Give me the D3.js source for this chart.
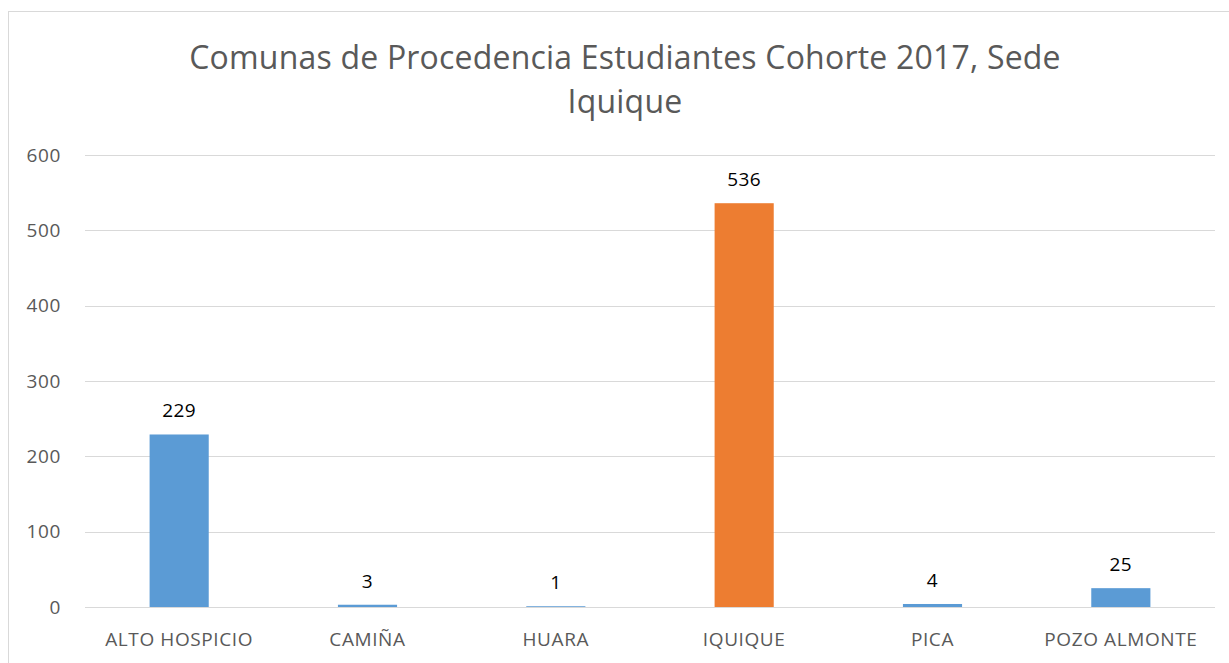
<!DOCTYPE html>
<html lang="es">
<head>
<meta charset="UTF-8" />
<title>Comunas de Procedencia</title>
<script src="https://d3js.org/d3.v7.min.js"></script>
<style>
  body { margin: 0; background: #fff; }
  svg { display: block; }
  text { font-family: "Open Sans", "Noto Sans", sans-serif; }
</style>
</head>
<body>
<svg width="1229" height="663"></svg>
<script>
const comunas = ['ALTO HOSPICIO', 'CAMIÑA', 'HUARA', 'IQUIQUE', 'PICA', 'POZO ALMONTE'];
const estudiantes = [229, 3, 1, 536, 4, 25];
const yTicks = [0, 100, 200, 300, 400, 500, 600];
const titleLines = ['Comunas de Procedencia Estudiantes Cohorte 2017, Sede', 'Iquique'];

const svg = d3.select('svg');

// chart frame (runs off the right and bottom edges)
svg.append('rect')
  .attr('x', 8.5).attr('y', 11.5)
  .attr('width', 1240).attr('height', 680)
  .attr('fill', '#fff')
  .attr('stroke', '#d9d9d9');

const plotLeft = 85, plotRight = 1215, plotTop = 155, plotBottom = 607;

const x = d3.scaleBand().domain(comunas).range([plotLeft, plotRight]).paddingInner(0.686).paddingOuter(0.343);
const y = d3.scaleLinear().domain([0, 600]).range([plotBottom, plotTop]);

// gridlines
svg.append('g')
  .selectAll('line')
  .data(yTicks)
  .join('line')
  .attr('x1', plotLeft).attr('x2', plotRight)
  .attr('y1', d => Math.round(y(d)) + 0.5)
  .attr('y2', d => Math.round(y(d)) + 0.5)
  .attr('stroke', '#d9d9d9')
  .attr('stroke-width', 1.2);

// y axis labels
svg.append('g')
  .selectAll('text')
  .data(yTicks)
  .join('text')
  .attr('x', 61)
  .attr('y', d => y(d))
  .attr('dy', '0.35em')
  .attr('text-anchor', 'end')
  .attr('fill', '#595959')
  .attr('font-size', 19)
  .attr('letter-spacing', 0.6)
  .text(d => d);

// bars
svg.append('g')
  .selectAll('rect')
  .data(comunas)
  .join('rect')
  .attr('x', d => x(d))
  .attr('width', x.bandwidth())
  .attr('y', (d, i) => y(estudiantes[i]))
  .attr('height', (d, i) => plotBottom - y(estudiantes[i]))
  .attr('fill', d => d === 'IQUIQUE' ? '#ED7D31' : '#5B9BD5');

// value labels
svg.append('g')
  .selectAll('text')
  .data(comunas)
  .join('text')
  .attr('x', d => x(d) + x.bandwidth() / 2)
  .attr('y', (d, i) => y(estudiantes[i]) - 17)
  .attr('text-anchor', 'middle')
  .attr('fill', '#000')
  .attr('font-size', 19)
  .attr('letter-spacing', 0.4)
  .text((d, i) => estudiantes[i]);

// category labels
svg.append('g')
  .selectAll('text')
  .data(comunas)
  .join('text')
  .attr('x', d => x(d) + x.bandwidth() / 2)
  .attr('y', 646)
  .attr('text-anchor', 'middle')
  .attr('fill', '#595959')
  .attr('font-size', 19)
  .attr('letter-spacing', 0.6)
  .text(d => d);

// title
svg.append('text')
  .attr('x', 625)
  .attr('y', 69)
  .attr('text-anchor', 'middle')
  .attr('fill', '#595959')
  .attr('font-size', 32)
  .attr('letter-spacing', 0.2)
  .selectAll('tspan')
  .data(titleLines)
  .join('tspan')
  .attr('x', 625)
  .attr('dy', (d, i) => i === 0 ? 0 : 44)
  .text(d => d);
</script>
</body>
</html>
